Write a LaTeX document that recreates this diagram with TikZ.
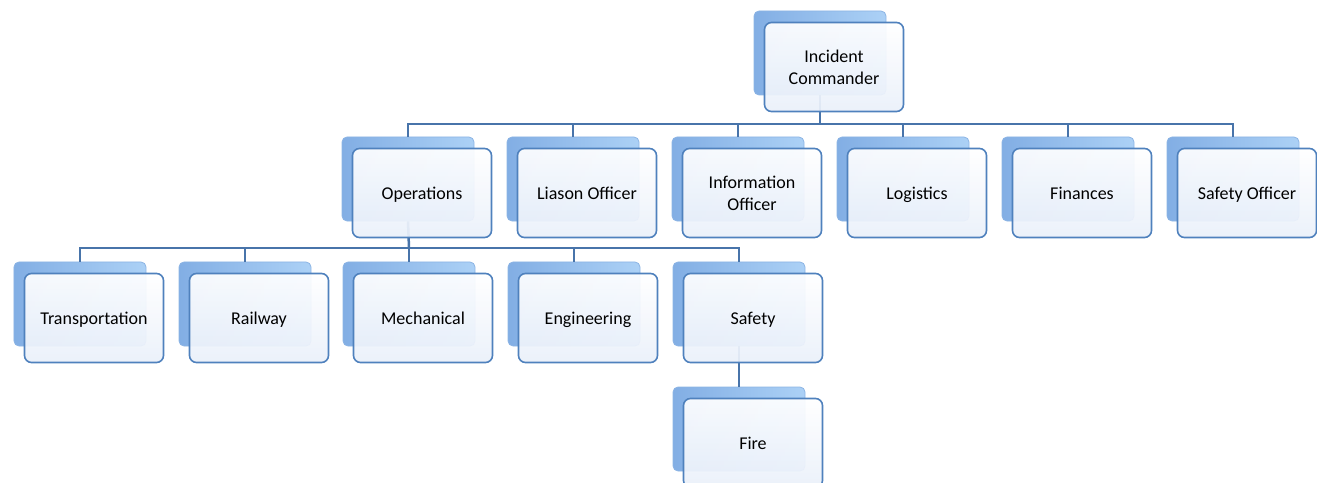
\documentclass[tikz,border=0pt]{standalone}
\usepackage{fontspec}
\setmainfont{Carlito}
\usetikzlibrary{calc}
\definecolor{linec}{RGB}{72,116,170}
\definecolor{shadedge}{RGB}{140,180,228}
\definecolor{shadL}{RGB}{130,174,228}
\definecolor{shadR}{RGB}{172,209,246}
\definecolor{mainedge}{RGB}{79,129,189}
\definecolor{mainbot}{RGB}{234,240,250}
\pgfdeclarelayer{front}
\pgfsetlayers{main,front}
\newcommand\orgnode[4]{%
  \node[shadowbox] (#1) at (#2,#3) {};
  \begin{pgfonlayer}{front}
    \node[mainbox] (#1m) at ($(#1.center)+(14,14)$) {};
    \node[boxtext] (#1t) at ($(#1m.center)+(0,2)$) {#4};
  \end{pgfonlayer}}
\begin{document}
\begin{tikzpicture}[x=1bp,y=-1bp,
  shadowbox/.style={draw=shadedge, line width=0.8bp, rounded corners=5bp,
    left color=shadL, right color=shadR,
    minimum width=132bp, minimum height=84bp, inner sep=0pt},
  mainbox/.style={draw=mainedge, line width=1.6bp, rounded corners=7bp,
    top color=white, bottom color=mainbot, fill opacity=0.93, draw opacity=1,
    minimum width=139bp, minimum height=89bp, inner sep=0pt},
  boxtext/.style={inner sep=0pt, align=center,
    font=\fontsize{18bp}{21.5bp}\selectfont, text=black},
  conn/.style={draw=linec, line width=2.5bp}]
\useasboundingbox (0,0) rectangle (1317,483);
% level 1
\orgnode{ic}{820}{53}{Incident\strut\\Commander\strut}
% level 2
\orgnode{ops}{408}{179}{\strut Operations}
\orgnode{lia}{573}{179}{\strut Liason Officer}
\orgnode{inf}{738}{179}{Information\strut\\Officer\strut}
\orgnode{log}{903}{179}{\strut Logistics}
\orgnode{fin}{1068}{179}{\strut Finances}
\orgnode{sfo}{1233}{179}{\strut Safety Officer}
% level 3
\orgnode{tra}{80}{304}{\strut Transportation}
\orgnode{rai}{245}{304}{\strut Railway}
\orgnode{mec}{409}{304}{\strut Mechanical}
\orgnode{eng}{574}{304}{\strut Engineering}
\orgnode{saf}{739}{304}{\strut Safety}
% level 4
\orgnode{fir}{739}{429}{\strut Fire}
% connectors
\coordinate (busA) at (820,124);
\coordinate (busB) at (409,248);
\draw[conn] (ic.south) -- (busA);
\draw[conn] (ops.north) -- (ops.north |- busA) -- (sfo.north |- busA) -- (sfo.north);
\foreach \n in {lia,inf,log,fin} \draw[conn] (busA -| \n.north) -- (\n.north);
\draw[conn] (ops.south) -- (busB);
\draw[conn] (tra.north) -- (tra.north |- busB) -- (saf.north |- busB) -- (saf.north);
\foreach \n in {rai,mec,eng} \draw[conn] (busB -| \n.north) -- (\n.north);
\draw[conn] (saf.south) -- (fir.north);
\end{tikzpicture}
\end{document}
